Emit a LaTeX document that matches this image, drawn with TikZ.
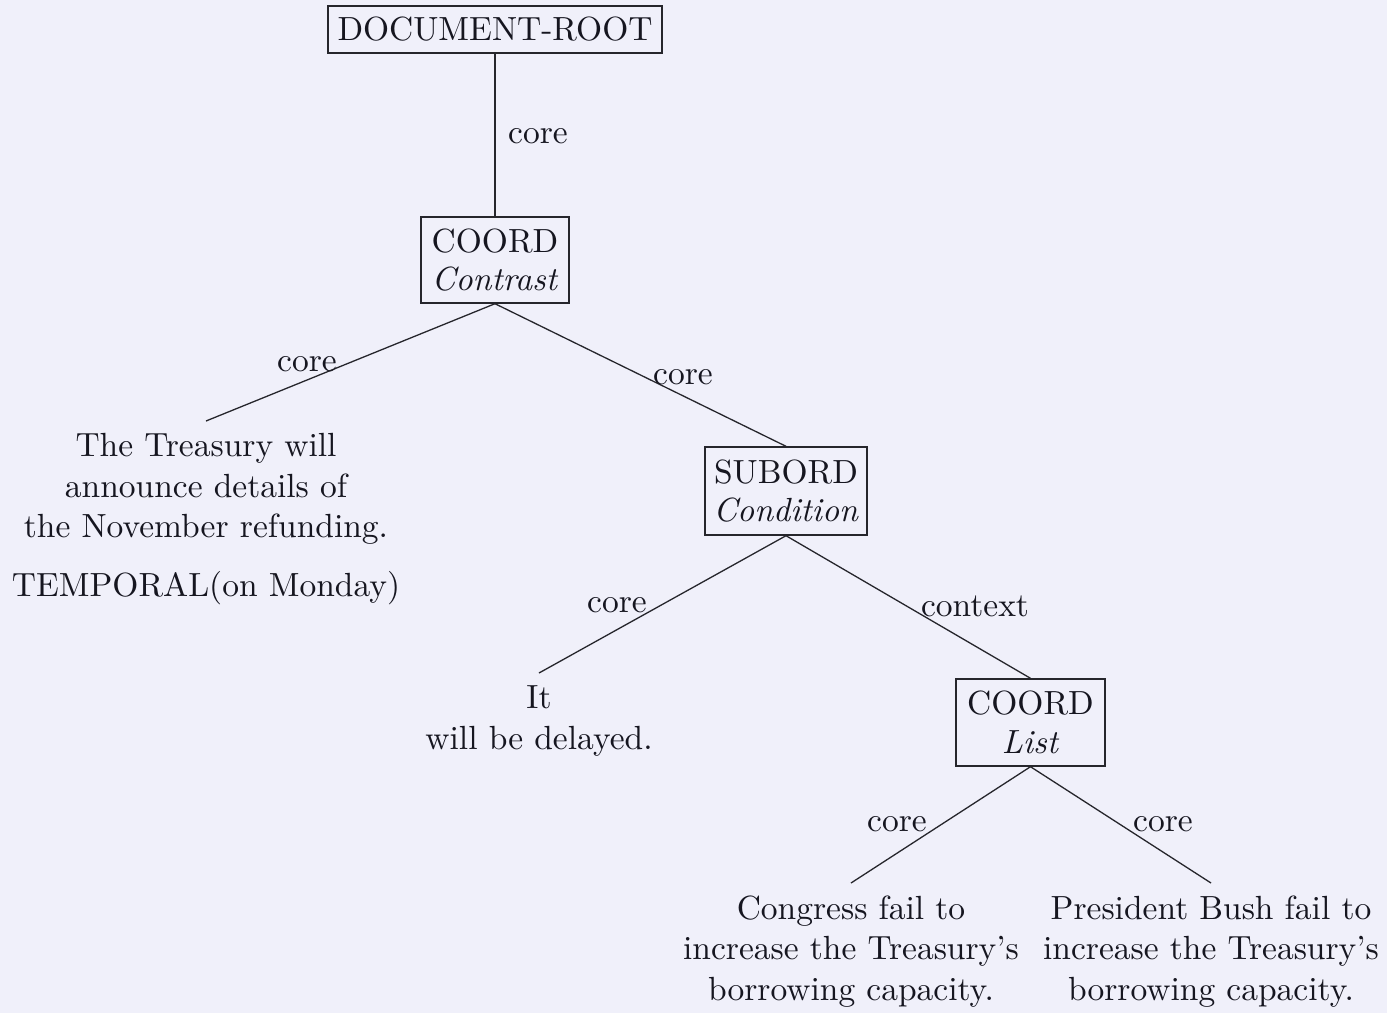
\documentclass[tikz,border=0pt]{standalone}
\usepackage{fontspec}
\setmainfont{lmroman10-regular.otf}[ItalicFont=lmroman10-italic.otf]
\usepackage{xcolor}
\definecolor{paper}{RGB}{240,240,250}
\definecolor{ink}{RGB}{22,22,32}
\definecolor{wire}{RGB}{38,38,44}
\begin{document}
\begin{tikzpicture}[x=1pt,y=-1pt,
  every node/.style={text=ink, font=\fontsize{33.5}{40.5}\selectfont},
  relbox/.style={draw=wire, line width=1.4pt, align=center, inner sep=0pt,
                 font=\fontsize{33.5}{38.5}\selectfont},
  leaf/.style={align=center, anchor=north, inner xsep=0pt, inner ysep=12.5pt},
  lbl/.style={anchor=base, inner sep=0pt},
  edge/.style={draw=wire, line width=1.3pt}]
\fill[paper] (0,0) rectangle (1387,1013);
\useasboundingbox (0,0) rectangle (1387,1013);

% relation nodes
\node[relbox, minimum width=334pt, minimum height=47pt] (root) at (495,29.5) {DOCUMENT-ROOT};
\node[relbox, minimum width=148pt, minimum height=86pt] (contrast) at (495,260) {COORD\\\textit{Contrast}};
\node[relbox, minimum width=162pt, minimum height=88pt] (condition) at (786,491) {SUBORD\\\textit{Condition}};
\node[relbox, minimum width=149pt, minimum height=87pt] (list) at (1030.5,722.5) {COORD\\\textit{List}};

% clause leaves
\node[leaf] (treasury) at (206,421) {The Treasury will\\announce details of\\the November refunding.\\[18pt]TEMPORAL(on Monday)};
\node[leaf] (delayed) at (539,673) {It\\will be delayed.};
\node[leaf] (congress) at (851,883) {Congress fail to\\increase the Treasury's\\borrowing capacity.};
\node[leaf] (bush) at (1211,883) {President Bush fail to\\increase the Treasury's\\borrowing capacity.};

% connectors
\draw[edge] (root.south) -- (contrast.north);
\draw[edge] (contrast.south) -- (treasury.north);
\draw[edge] (contrast.south) -- (condition.north);
\draw[edge] (condition.south) -- (delayed.north);
\draw[edge] (condition.south) -- (list.north);
\draw[edge] (list.south) -- (congress.north);
\draw[edge] (list.south) -- (bush.north);

% edge labels
\node[lbl] (l1) at (538,143) {core};
\node[lbl] (l2) at (307,371) {core};
\node[lbl] (l3) at (683,384) {core};
\node[lbl] (l4) at (617,612) {core};
\node[lbl] (l5) at (975,616) {context};
\node[lbl] (l6) at (897,831) {core};
\node[lbl] (l7) at (1163,831) {core};
\end{tikzpicture}
\end{document}
